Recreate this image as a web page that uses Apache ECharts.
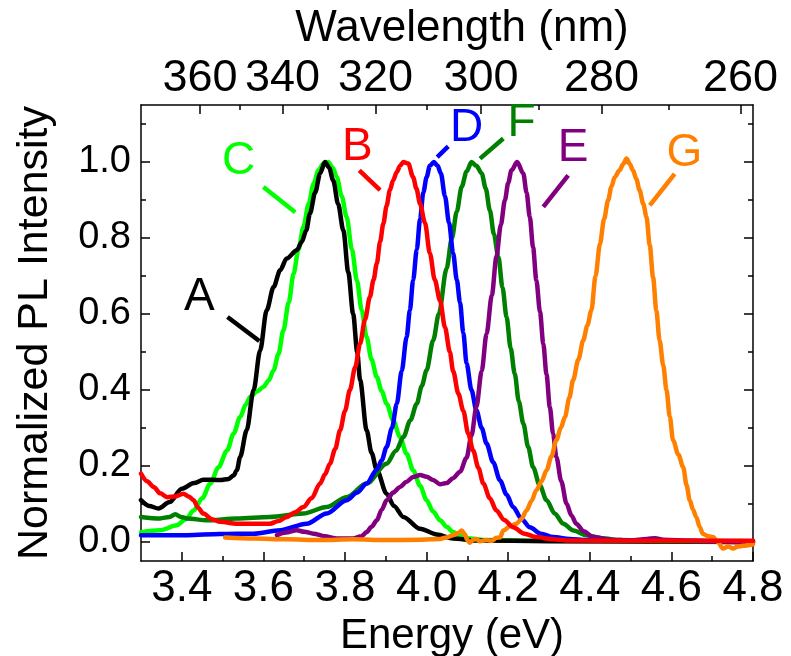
<!DOCTYPE html>
<html>
<head>
<meta charset="utf-8">
<script src="https://cdn.jsdelivr.net/npm/echarts@6/dist/echarts.min.js"></script>
<style>html,body{margin:0;padding:0;background:#fff;}#c{width:791px;height:656px;}</style>
</head>
<body>
<div id="c"></div>
<script>
// ---- data (energy eV, normalized intensity) ----
const curveA = [[3.30,0.11],[3.32,0.095],[3.343,0.088],[3.37,0.105],[3.40,0.14],[3.43,0.155],[3.453,0.164],[3.494,0.163],[3.515,0.166],[3.527,0.175],[3.535,0.189],[3.543,0.224],[3.559,0.294],[3.576,0.40],[3.592,0.504],[3.608,0.61],[3.625,0.671],[3.641,0.715],[3.657,0.746],[3.682,0.768],[3.694,0.79],[3.705,0.82],[3.714,0.864],[3.727,0.92],[3.739,0.97],[3.751,1.0],[3.761,0.985],[3.771,0.952],[3.783,0.89],[3.796,0.82],[3.808,0.71],[3.820,0.60],[3.83,0.50],[3.837,0.426],[3.853,0.294],[3.865,0.235],[3.878,0.189],[3.902,0.127],[3.92,0.095],[3.943,0.066],[3.984,0.035],[4.025,0.02],[4.065,0.009],[4.12,0.004],[4.3,0.002],[4.8,0.0]];
const curveB = [[3.30,0.18],[3.315,0.16],[3.331,0.145],[3.347,0.128],[3.364,0.118],[3.384,0.12],[3.404,0.127],[3.417,0.12],[3.429,0.11],[3.44,0.09],[3.453,0.075],[3.474,0.06],[3.494,0.053],[3.535,0.048],[3.576,0.048],[3.616,0.048],[3.637,0.055],[3.657,0.066],[3.678,0.078],[3.698,0.092],[3.718,0.115],[3.739,0.154],[3.751,0.178],[3.763,0.206],[3.776,0.245],[3.788,0.294],[3.80,0.345],[3.812,0.40],[3.825,0.46],[3.837,0.522],[3.849,0.585],[3.861,0.645],[3.870,0.69],[3.878,0.733],[3.886,0.79],[3.894,0.838],[3.902,0.885],[3.910,0.926],[3.918,0.952],[3.927,0.974],[3.935,0.99],[3.943,1.0],[3.955,0.996],[3.967,0.96],[3.975,0.93],[3.984,0.89],[3.996,0.84],[4.008,0.76],[4.02,0.69],[4.033,0.635],[4.045,0.565],[4.057,0.50],[4.065,0.45],[4.078,0.39],[4.090,0.345],[4.102,0.285],[4.114,0.241],[4.127,0.195],[4.139,0.154],[4.155,0.115],[4.171,0.083],[4.19,0.058],[4.212,0.039],[4.24,0.022],[4.269,0.013],[4.31,0.007],[4.351,0.004],[4.5,0.003],[4.65,0.003],[4.8,0.003]];
const curveC = [[3.30,0.026],[3.347,0.031],[3.388,0.044],[3.41,0.06],[3.429,0.083],[3.45,0.115],[3.470,0.154],[3.49,0.197],[3.511,0.241],[3.527,0.285],[3.543,0.329],[3.557,0.362],[3.568,0.382],[3.585,0.397],[3.600,0.408],[3.613,0.425],[3.625,0.452],[3.637,0.495],[3.649,0.557],[3.662,0.63],[3.674,0.706],[3.686,0.77],[3.698,0.829],[3.711,0.89],[3.723,0.943],[3.735,0.978],[3.747,0.996],[3.759,1.0],[3.770,0.985],[3.780,0.96],[3.792,0.91],[3.804,0.855],[3.817,0.77],[3.829,0.689],[3.841,0.61],[3.853,0.539],[3.865,0.48],[3.878,0.434],[3.890,0.397],[3.902,0.364],[3.918,0.32],[3.935,0.276],[3.951,0.232],[3.967,0.189],[3.984,0.148],[4.000,0.11],[4.016,0.08],[4.033,0.057],[4.049,0.04],[4.065,0.026],[4.082,0.016],[4.098,0.01],[4.15,0.005],[4.3,0.003],[4.8,0.002]];
const curveD = [[3.30,0.018],[3.413,0.018],[3.494,0.021],[3.576,0.022],[3.641,0.031],[3.706,0.048],[3.755,0.075],[3.804,0.11],[3.83,0.13],[3.853,0.154],[3.878,0.19],[3.890,0.215],[3.902,0.25],[3.915,0.30],[3.927,0.364],[3.939,0.45],[3.951,0.539],[3.959,0.61],[3.967,0.689],[3.976,0.77],[3.984,0.85],[3.992,0.92],[4.000,0.96],[4.008,0.99],[4.018,1.0],[4.027,0.99],[4.035,0.97],[4.045,0.91],[4.055,0.84],[4.065,0.76],[4.074,0.69],[4.082,0.63],[4.090,0.55],[4.098,0.47],[4.110,0.40],[4.122,0.347],[4.135,0.30],[4.147,0.259],[4.163,0.21],[4.180,0.162],[4.196,0.125],[4.212,0.092],[4.233,0.06],[4.253,0.039],[4.28,0.022],[4.310,0.013],[4.35,0.008],[4.392,0.005],[4.6,0.003],[4.8,0.002]];
const curveE = [[3.633,0.018],[3.655,0.025],[3.682,0.031],[3.70,0.027],[3.723,0.022],[3.75,0.015],[3.780,0.009],[3.820,0.009],[3.84,0.015],[3.853,0.026],[3.865,0.04],[3.878,0.057],[3.890,0.085],[3.902,0.11],[3.918,0.13],[3.935,0.145],[3.950,0.158],[3.967,0.171],[3.984,0.176],[4.000,0.172],[4.016,0.163],[4.033,0.152],[4.049,0.155],[4.065,0.168],[4.082,0.185],[4.098,0.222],[4.110,0.28],[4.122,0.355],[4.135,0.45],[4.147,0.548],[4.160,0.65],[4.171,0.75],[4.182,0.835],[4.192,0.9],[4.200,0.945],[4.208,0.978],[4.222,1.0],[4.237,0.97],[4.245,0.92],[4.253,0.855],[4.261,0.775],[4.269,0.689],[4.278,0.605],[4.286,0.522],[4.294,0.44],[4.302,0.355],[4.310,0.285],[4.318,0.224],[4.330,0.16],[4.343,0.101],[4.355,0.07],[4.367,0.048],[4.385,0.028],[4.408,0.013],[4.45,0.006],[4.5,0.004],[4.54,0.008],[4.56,0.01],[4.58,0.006],[4.65,0.003],[4.75,0.0],[4.8,-0.004]];
const curveF = [[3.30,0.066],[3.347,0.062],[3.37,0.066],[3.384,0.073],[3.398,0.066],[3.413,0.062],[3.462,0.057],[3.535,0.062],[3.616,0.066],[3.698,0.075],[3.755,0.092],[3.804,0.118],[3.853,0.154],[3.902,0.206],[3.925,0.24],[3.943,0.276],[3.96,0.32],[3.976,0.364],[3.988,0.41],[4.000,0.452],[4.016,0.53],[4.030,0.60],[4.049,0.72],[4.062,0.80],[4.074,0.87],[4.086,0.935],[4.098,0.975],[4.110,1.0],[4.122,0.99],[4.135,0.97],[4.145,0.93],[4.155,0.873],[4.165,0.81],[4.176,0.75],[4.186,0.67],[4.196,0.592],[4.206,0.51],[4.216,0.443],[4.226,0.37],[4.237,0.312],[4.249,0.25],[4.261,0.197],[4.277,0.15],[4.294,0.11],[4.314,0.075],[4.335,0.048],[4.36,0.03],[4.392,0.018],[4.43,0.01],[4.473,0.005],[4.6,0.002],[4.8,0.0]];
const curveG = [[3.506,0.012],[3.576,0.009],[3.657,0.007],[3.739,0.005],[3.820,0.007],[3.902,0.005],[3.984,0.006],[4.033,0.008],[4.049,0.012],[4.065,0.018],[4.078,0.024],[4.086,0.03],[4.094,0.02],[4.100,0.005],[4.106,-0.002],[4.114,0.006],[4.122,0.008],[4.13,0.002],[4.147,0.005],[4.160,0.003],[4.171,0.011],[4.180,0.012],[4.188,0.03],[4.205,0.042],[4.220,0.048],[4.232,0.06],[4.245,0.083],[4.257,0.108],[4.269,0.136],[4.282,0.16],[4.294,0.189],[4.306,0.225],[4.318,0.268],[4.329,0.30],[4.339,0.329],[4.350,0.38],[4.359,0.426],[4.372,0.48],[4.384,0.531],[4.394,0.57],[4.404,0.61],[4.414,0.70],[4.425,0.785],[4.435,0.85],[4.445,0.9],[4.453,0.935],[4.461,0.96],[4.473,0.978],[4.482,0.995],[4.490,1.009],[4.498,0.995],[4.506,0.978],[4.514,0.955],[4.522,0.926],[4.531,0.89],[4.539,0.855],[4.547,0.78],[4.555,0.697],[4.563,0.61],[4.571,0.531],[4.580,0.465],[4.588,0.40],[4.596,0.33],[4.604,0.268],[4.617,0.23],[4.629,0.197],[4.637,0.15],[4.645,0.11],[4.653,0.085],[4.661,0.066],[4.669,0.04],[4.677,0.022],[4.690,0.015],[4.702,0.013],[4.714,0.0],[4.726,-0.017],[4.740,-0.012],[4.751,-0.017],[4.763,-0.012],[4.775,-0.01],[4.8,-0.006]];

// ---- ticks ----
const energyTicks = [3.4,3.6,3.8,4.0,4.2,4.4,4.6,4.8];
const energyMinorTicks = [3.5,3.7,3.9,4.1,4.3,4.5,4.7];
const wavelengthTicks = [360,340,320,300,280,260];
const wavelengthMinorTicks = [350,330,310,290,270];
const intensityTicks = [0.0,0.2,0.4,0.6,0.8,1.0];
const intensityMinorTicks = [0.1,0.3,0.5,0.7,0.9,1.1];

// ---- annotation letters (data coordinates), order A..G ----
const labelNames = ['A','B','C','D','E','F','G'];
const labelPos = [[3.443,0.645],[3.830,1.039],[3.539,1.003],[4.098,1.088],[4.359,1.035],[4.233,1.101],[4.632,1.022]];
const leaderFrom = [[3.512,0.592],[3.835,0.978],[3.600,0.934],[4.026,1.013],[4.286,0.882],[4.131,1.009],[4.547,0.886]];
const leaderTo = [[3.590,0.529],[3.886,0.926],[3.678,0.868],[4.053,1.041],[4.347,0.965],[4.188,1.062],[4.608,0.969]];

const HC = 1240; // eV*nm
const FONT = '"Liberation Sans", Arial, sans-serif';
const colors = {A:'#000000',B:'#ff0000',C:'#00ff00',D:'#0000ff',E:'#800080',F:'#008000',G:'#ff8000'};
const curves = {A:curveA,B:curveB,C:curveC,D:curveD,E:curveE,F:curveF,G:curveG};
const drawOrder = ['C','A','F','D','E','G','B'];
const LW = 4.5;

const axisLineStyle = {color:'#000', width:1.5};

function mkSeries(key){
  const col = colors[key];
  return {
    type:'line', name:key, data:curves[key], xAxisIndex:0, yAxisIndex:0,
    showSymbol:false, symbol:'none', smooth:0.3, smoothMonotone:'x',
    lineStyle:{color:col, width:LW, cap:'round', join:'round'}, itemStyle:{color:col},
    emphasis:{disabled:true}, silent:true, clip:true
  };
}

// leader lines drawn as a 'lines' series, each item with its own colour
const leaderSeries = {
  type:'lines', coordinateSystem:'cartesian2d', xAxisIndex:0, yAxisIndex:0,
  silent:true, polyline:false, symbol:['none','none'],
  data: labelNames.map((k,i)=>({coords:[leaderFrom[i], leaderTo[i]], lineStyle:{color:colors[k], width:LW, opacity:1, curveness:0}})),
  lineStyle:{width:LW, opacity:1}
};
// letters as a scatter series with transparent symbols and text labels
const letterSeries = {
  type:'scatter', xAxisIndex:0, yAxisIndex:0, silent:true, symbolSize:2,
  itemStyle:{color:'rgba(255,255,255,0)', opacity:1},
  data: labelNames.map((k,i)=>({value:labelPos[i], name:k,
    label:{show:true, position:'inside', formatter:k, color:colors[k], opacity:1, fontSize:46, fontFamily:FONT}}))
};

const chart = echarts.init(document.getElementById('c'), null, {renderer:'canvas'});
chart.setOption({
  animation:false,
  backgroundColor:'#fff',
  grid:{left:141, right:38, top:105, bottom:95, containLabel:false, outerBoundsMode:'none'},
  xAxis:[
    {type:'value', position:'bottom', min:3.3, max:4.8,
      axisLine:{show:true, onZero:false, lineStyle:axisLineStyle},
      axisTick:{show:true, inside:true, length:9, customValues:energyTicks, lineStyle:axisLineStyle},
      axisLabel:{show:true, customValues:energyTicks, formatter:v=>v.toFixed(1), fontSize:44, color:'#000', fontFamily:FONT, margin:6},
      splitLine:{show:false},
      name:'Energy (eV)', nameLocation:'middle', nameGap:41,
      nameTextStyle:{fontSize:42, color:'#000', fontFamily:FONT, padding:[0,0,0,10]}},
    {type:'value', position:'bottom', min:3.3, max:4.8,
      axisLine:{show:false, onZero:false},
      axisTick:{show:true, inside:true, length:5, customValues:energyMinorTicks, lineStyle:axisLineStyle},
      axisLabel:{show:false}, splitLine:{show:false}},
    {type:'value', position:'top', min:3.3, max:4.8,
      axisLine:{show:true, onZero:false, lineStyle:axisLineStyle},
      axisTick:{show:true, inside:true, length:9, customValues:wavelengthTicks.map(w=>HC/w), lineStyle:axisLineStyle},
      axisLabel:{show:true, customValues:wavelengthTicks.map(w=>HC/w), formatter:v=>String(Math.round(HC/v)), fontSize:45, color:'#000', fontFamily:FONT, margin:4},
      splitLine:{show:false},
      name:'Wavelength (nm)', nameLocation:'middle', nameGap:47,
      nameTextStyle:{fontSize:44, color:'#000', fontFamily:FONT, padding:[0,0,0,30]}},
    {type:'value', position:'top', min:3.3, max:4.8,
      axisLine:{show:false, onZero:false},
      axisTick:{show:true, inside:true, length:5, customValues:wavelengthMinorTicks.map(w=>HC/w), lineStyle:axisLineStyle},
      axisLabel:{show:false}, splitLine:{show:false}}
  ],
  yAxis:[
    {type:'value', position:'left', min:-0.05, max:1.15,
      axisLine:{show:true, onZero:false, lineStyle:axisLineStyle},
      axisTick:{show:true, inside:true, length:9, customValues:intensityTicks, lineStyle:axisLineStyle},
      axisLabel:{show:true, customValues:intensityTicks, formatter:v=>v.toFixed(1), fontSize:38, color:'#000', fontFamily:FONT, margin:10},
      splitLine:{show:false},
      name:'Normalized PL Intensity', nameLocation:'middle', nameGap:84, nameRotate:90,
      nameTextStyle:{fontSize:43, color:'#000', fontFamily:FONT}},
    {type:'value', position:'left', min:-0.05, max:1.15,
      axisLine:{show:false, onZero:false},
      axisTick:{show:true, inside:true, length:5, customValues:intensityMinorTicks, lineStyle:axisLineStyle},
      axisLabel:{show:false}, splitLine:{show:false}},
    {type:'value', position:'right', min:-0.05, max:1.15,
      axisLine:{show:true, onZero:false, lineStyle:axisLineStyle},
      axisTick:{show:true, inside:true, length:9, customValues:intensityTicks, lineStyle:axisLineStyle},
      axisLabel:{show:false}, splitLine:{show:false}},
    {type:'value', position:'right', min:-0.05, max:1.15,
      axisLine:{show:false, onZero:false},
      axisTick:{show:true, inside:true, length:5, customValues:intensityMinorTicks, lineStyle:axisLineStyle},
      axisLabel:{show:false}, splitLine:{show:false}}
  ],
  series: drawOrder.map(mkSeries).concat([leaderSeries, letterSeries])
});
</script>
</body>
</html>
